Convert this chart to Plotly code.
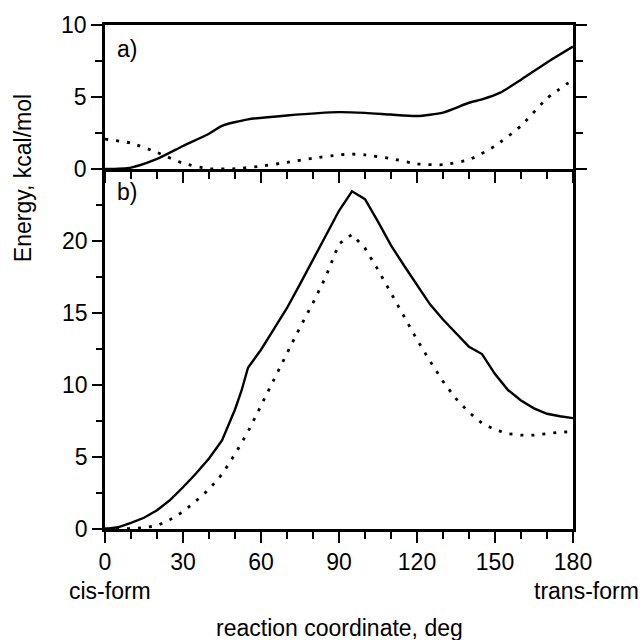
import plotly.graph_objects as go

# ---- data (reaction coordinate in degrees, energies in kcal/mol) ----
a_x_solid = [0, 10, 20, 30, 40, 45, 55, 70, 90, 100, 110, 120, 130, 140, 145, 152, 160, 170, 180]
a_solid = [0, 0.1, 0.7, 1.6, 2.45, 3.0, 3.45, 3.72, 3.95, 3.9, 3.78, 3.68, 3.92, 4.6, 4.83, 5.3, 6.2, 7.4, 8.5]

a_x_dot = [0, 10, 20, 30, 40, 50, 60, 70, 80, 90, 95, 100, 110, 120, 130, 140, 150, 160, 170, 180]
a_dot = [2.07, 1.8, 1.15, 0.4, 0.02, 0.02, 0.2, 0.46, 0.75, 0.98, 1.03, 0.98, 0.72, 0.36, 0.3, 0.65, 1.6, 3.0, 4.9, 6.2]

b_x_solid = [0, 5, 10, 15, 20, 25, 30, 35, 40, 45, 50, 52.5, 55, 60, 65, 70, 75, 80, 85, 90, 95,
             100, 105, 110, 115, 120, 125, 130, 135, 140, 145, 150, 155, 160, 165, 170, 175, 180]
b_solid = [0, 0.12, 0.42, 0.78, 1.3, 2.0, 2.9, 3.85, 4.9, 6.15, 8.3, 9.6, 11.2, 12.45, 13.9, 15.35, 17.0,
           18.7, 20.4, 22.1, 23.45, 22.9, 21.35, 19.7, 18.3, 16.95, 15.6, 14.55, 13.6, 12.65, 12.15,
           10.76, 9.65, 8.93, 8.38, 8.0, 7.83, 7.7]

b_x_dot = [0, 5, 10, 15, 20, 25, 30, 35, 40, 45, 50, 55, 60, 65, 70, 75, 80, 85, 90, 95,
           100, 105, 110, 115, 120, 125, 130, 135, 140, 145, 150, 155, 160, 165, 170, 175, 180]
b_dot = [0, 0, 0.03, 0.1, 0.22, 0.65, 1.2, 1.95, 2.75, 3.8, 5.2, 6.75, 8.6, 10.4, 12.2, 14.0,
         15.7, 17.55, 19.8, 20.45, 19.5, 18.0, 16.35, 14.8, 13.15, 11.66, 10.25, 9.05, 8.1, 7.35,
         6.9, 6.62, 6.52, 6.52, 6.63, 6.72, 6.77]

x_ticks = [0, 30, 60, 90, 120, 150, 180]
a_yticks = [0, 5, 10]
b_yticks = [0, 5, 10, 15, 20]

FONT = "Arial, 'Liberation Sans', Helvetica, sans-serif"
FS = 23
DOM = 25 / 35

fig = go.Figure()
solid = dict(color="black", width=2.4)
dotted = dict(color="black", width=2.8, dash="3px,8px")

fig.add_trace(go.Scatter(x=b_x_solid, y=b_solid, mode="lines", line=solid, xaxis="x", yaxis="y"))
fig.add_trace(go.Scatter(x=b_x_dot, y=b_dot, mode="lines", line=dotted, xaxis="x", yaxis="y"))
fig.add_trace(go.Scatter(x=a_x_solid, y=a_solid, mode="lines",
                         line=dict(solid, shape="spline", smoothing=0.6), xaxis="x2", yaxis="y2"))
fig.add_trace(go.Scatter(x=a_x_dot, y=a_dot, mode="lines",
                         line=dict(dotted, shape="spline", smoothing=0.6), xaxis="x2", yaxis="y2"))

axis_common = dict(showgrid=False, zeroline=False, showline=True, linecolor="black",
                   linewidth=2.5, ticks="outside", tickcolor="black", tickwidth=2,
                   tickfont=dict(family=FONT, size=FS, color="black"))

fig.update_layout(
    width=641, height=640,
    margin=dict(l=105, r=68, t=21, b=111),
    paper_bgcolor="white", plot_bgcolor="white",
    showlegend=False,
    font=dict(family=FONT, size=FS, color="black"),
    xaxis=dict(axis_common, domain=[0, 1], range=[0, 180], tickvals=x_ticks, ticklen=11,
               anchor="y",
               minor=dict(dtick=10, tick0=0, ticklen=7, tickwidth=2, ticks="outside", tickcolor="black")),
    yaxis=dict(axis_common, domain=[0, DOM], range=[0, 25], tickvals=b_yticks, ticklen=10,
               mirror=True, anchor="x",
               minor=dict(dtick=2.5, tick0=0, ticklen=6, tickwidth=2, ticks="outside", tickcolor="black")),
    xaxis2=dict(axis_common, domain=[0, 1], range=[0, 180], tickvals=x_ticks, ticklen=11,
                showticklabels=False, anchor="y2", mirror=True, matches="x",
                minor=dict(dtick=10, tick0=0, ticklen=7, tickwidth=2, ticks="outside", tickcolor="black")),
    yaxis2=dict(axis_common, domain=[DOM, 1], range=[0, 10], tickvals=a_yticks, ticklen=11,
                mirror="ticks", anchor="x2",
                minor=dict(dtick=2.5, tick0=0, ticklen=7, tickwidth=2, ticks="outside", tickcolor="black")),
)

ann = dict(xref="paper", yref="paper", showarrow=False,
           font=dict(family=FONT, size=FS, color="black"))
fig.add_annotation(ann, text="Energy, kcal/mol", x=-0.1763, y=0.697, textangle=-90,
                   xanchor="center", yanchor="middle")
fig.add_annotation(ann, text="reaction coordinate, deg", x=0.5, y=-0.197,
                   xanchor="center", yanchor="middle")
fig.add_annotation(ann, text="cis-form", x=0.0107, y=-0.124, xanchor="center", yanchor="middle")
fig.add_annotation(ann, text="trans-form", x=(641 - 105) / 468, y=-0.124,
                   xanchor="right", yanchor="middle")
fig.add_annotation(ann, text="a)", x=0.047, y=0.953, xanchor="center", yanchor="middle")
fig.add_annotation(ann, text="b)", x=0.047, y=0.669, xanchor="center", yanchor="middle")

fig.write_html("out.html")
